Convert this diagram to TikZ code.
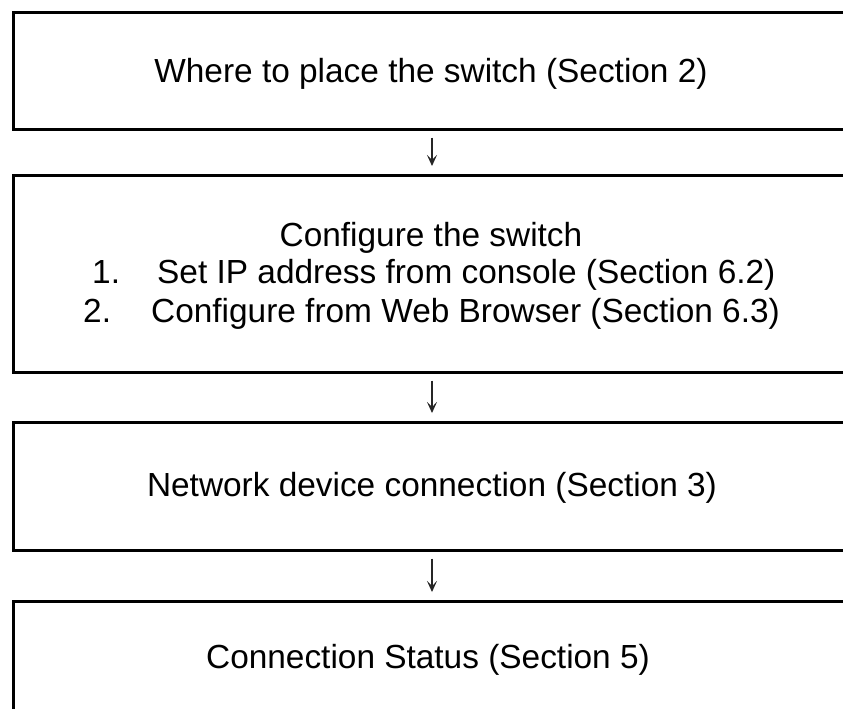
\documentclass[tikz,border=0pt]{standalone}
\usepackage{fontspec}
\setmainfont{Liberation Sans}
\usetikzlibrary{arrows.meta}
\begin{document}
\begin{tikzpicture}[x=1pt,y=-1pt,
  stepbox/.style={draw=black,line width=2.6pt,rectangle,anchor=north west,minimum width=880pt,inner sep=0pt},
  txt/.style={inner sep=0pt,font=\fontsize{33.4pt}{38pt}\selectfont},
  flow/.style={draw=black!85,line width=1.2pt,-{Stealth[length=11pt,width=10pt,inset=5pt]},shorten <=7pt,shorten >=8pt}]
\useasboundingbox (0,0) rectangle (843,709);
\clip (0,0) rectangle (843,709);
\node[stepbox,minimum height=117pt] (b1) at (12,11) {};
\node[stepbox,minimum height=197pt] (b2) at (12,174) {};
\node[stepbox,minimum height=128pt] (b3) at (12,421) {};
\node[stepbox,minimum height=180pt] (b4) at (12,600) {};
\coordinate (ax) at (432,0);
\node[txt,anchor=base] (t1) at (431,82) {Where to place the switch (Section 2)};
\node[txt,anchor=base] (t2) at (431,246) {Configure the switch};
\node[txt,anchor=base west] (n1) at (92,283) {1.};
\node[txt,anchor=base west] (t3) at (157,283) {Set IP address from console (Section 6.2)};
\node[txt,anchor=base west] (n2) at (83,322) {2.};
\node[txt,anchor=base west] (t4) at (151,322) {Configure from Web Browser (Section 6.3)};
\node[txt,anchor=base] (t5) at (432,496) {Network device connection (Section 3)};
\node[txt,anchor=base] (t6) at (428,668) {Connection Status (Section 5)};
\draw[flow] (b1.south -| ax) -- (b2.north -| ax);
\draw[flow] (b2.south -| ax) -- (b3.north -| ax);
\draw[flow] (b3.south -| ax) -- (b4.north -| ax);
\end{tikzpicture}
\end{document}
